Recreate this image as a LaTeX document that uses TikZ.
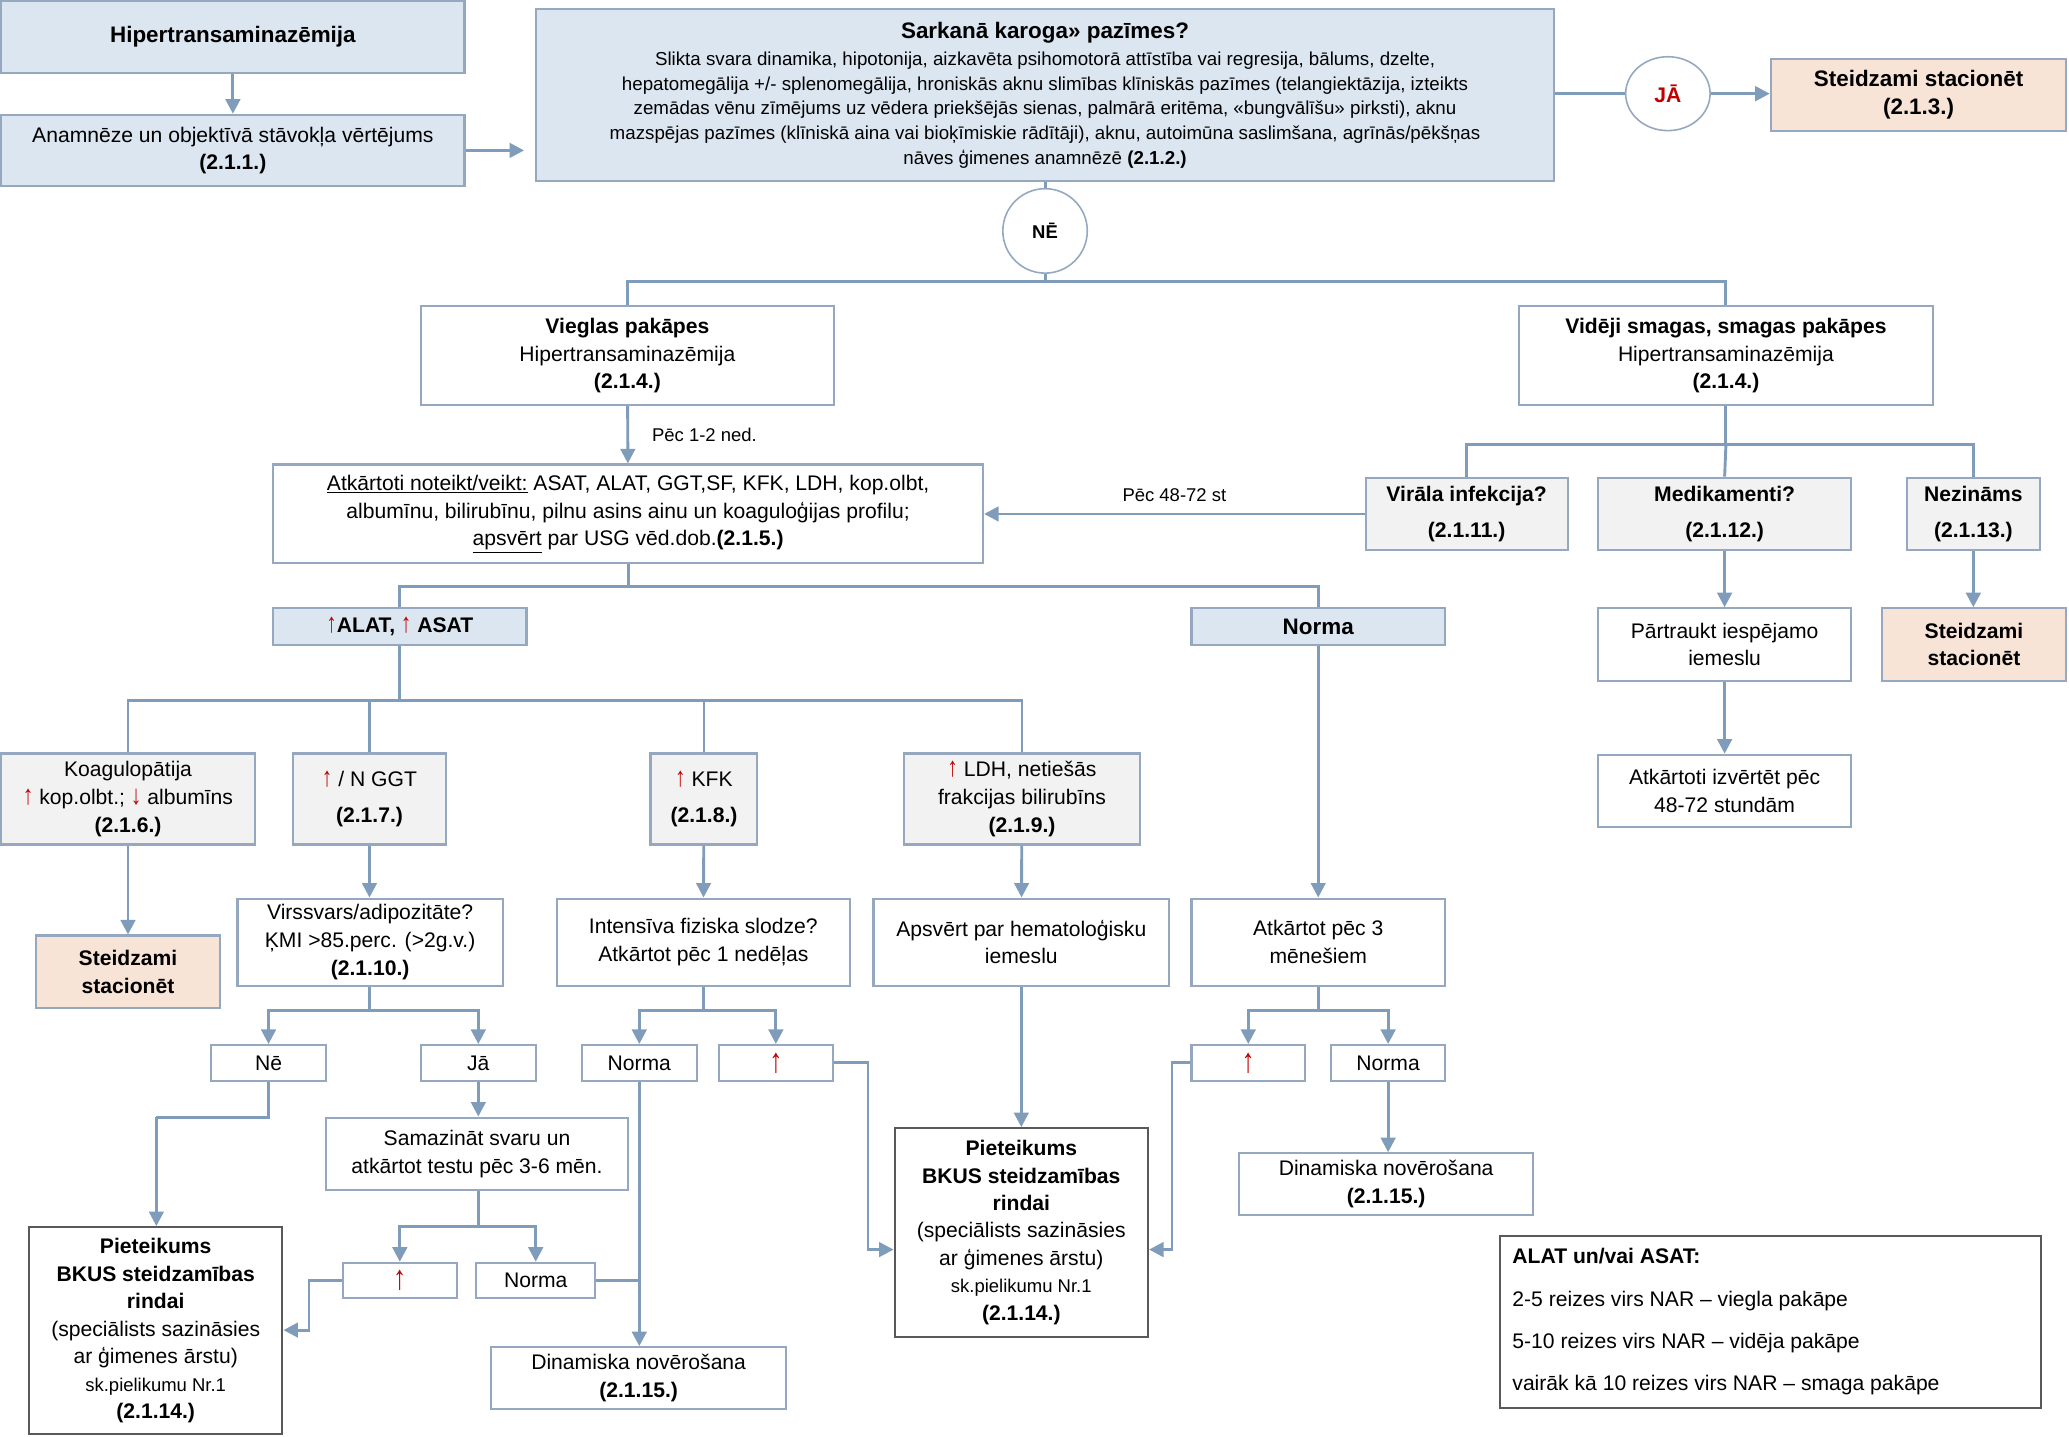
\documentclass[tikz,border=0pt]{standalone}
\usepackage{fontspec}
\setmainfont{Liberation Sans}
\usetikzlibrary{arrows.meta,shapes.geometric}
\definecolor{bfill}{HTML}{DCE6F1}
\definecolor{bdr}{HTML}{95A8BF}
\definecolor{gfill}{HTML}{F2F2F2}
\definecolor{ofill}{HTML}{F8E4D6}
\definecolor{ln}{HTML}{7F9CBB}
\definecolor{rd}{HTML}{C00000}
\newcommand\bx[7]{\node[box,#6,minimum width={(#4-#2)*1pt},minimum height={(#5-#3)*1pt}] (#1) at ({(#2+#4)/2},{-(#3+#5)/2}) {#7};}
\newcommand\up{\textcolor{rd}{\scalebox{1}[1.3]{↑}}}
\begin{document}
\begin{tikzpicture}[x=1pt,y=1pt,
 box/.style={draw=bdr,line width=1.6pt,fill=white,align=center,inner sep=0pt,font=\fontsize{16}{21}\selectfont},
 bl/.style={fill=bfill},gr/.style={fill=gfill},og/.style={fill=ofill},
 cn/.style={draw=ln,line width=2.2pt},
 ar/.style={cn,-{Triangle[length=11pt,width=11pt]}},
 lab/.style={font=\fontsize{14}{16}\selectfont}]
\useasboundingbox (0,0) rectangle (1568,-1089);
\bx{hyper}{1}{1}{352}{55}{bl,font=\fontsize{17}{21}\selectfont\bfseries}{Hipertransaminazēmija}
\bx{anam}{1}{87}{352}{141}{bl}{Anamnēze un objektīvā stāvokļa vērtējums\\\textbf{(2.1.1.)}}
\bx{red}{406}{7}{1178}{137}{bl,font=\fontsize{14.2}{18.7}\selectfont}{{\fontsize{17}{21}\selectfont\bfseries Sarkanā karoga» pazīmes?}\\[2pt]
Slikta svara dinamika, hipotonija, aizkavēta psihomotorā attīstība vai regresija, bālums, dzelte,\\
hepatomegālija +/- splenomegālija, hroniskās aknu slimības klīniskās pazīmes (telangiektāzija, izteikts\\
zemādas vēnu zīmējums uz vēdera priekšējās sienas, palmārā eritēma, «bungvālīšu» pirksti), aknu\\
mazspējas pazīmes (klīniskā aina vai bioķīmiskie rādītāji), aknu, autoimūna saslimšana, agrīnās/pēkšņas\\
nāves ģimenes anamnēzē \textbf{(2.1.2.)}}
\node[box,ellipse,line width=1.2pt,minimum width=64pt,minimum height=56pt] (ja) at (1264,-71) {\textcolor{rd}{\textbf{JĀ}}};
\bx{stac1}{1342}{45}{1566}{99}{og,font=\fontsize{17}{21}\selectfont\bfseries}{Steidzami stacionēt\\(2.1.3.)}
\node[box,circle,line width=1.2pt,minimum size=64pt,font=\fontsize{14}{16}\selectfont\bfseries] (ne) at (792,-175) {NĒ};
\bx{viegl}{319}{232}{632}{307}{}{\textbf{Vieglas pakāpes}\\Hipertransaminazēmija\\\textbf{(2.1.4.)}}
\bx{vid}{1151}{232}{1465}{307}{}{\textbf{Vidēji smagas, smagas pakāpes}\\Hipertransaminazēmija\\\textbf{(2.1.4.)}}
\bx{atk}{207}{352}{745}{427}{}{\underline{Atkārtoti noteikt/veikt:} ASAT, ALAT, GGT,SF, KFK, LDH, kop.olbt,\\albumīnu, bilirubīnu, pilnu asins ainu un koaguloģijas profilu;\\\underline{apsvērt} par USG vēd.dob.\textbf{(2.1.5.)}}
\bx{vir}{1035}{362}{1188}{417}{gr,font=\fontsize{16}{27}\selectfont\bfseries}{Virāla infekcija?\\(2.1.11.)}
\bx{med}{1211}{362}{1403}{417}{gr,font=\fontsize{16}{27}\selectfont\bfseries}{Medikamenti?\\(2.1.12.)}
\bx{nez}{1445}{362}{1546}{417}{gr,font=\fontsize{16}{27}\selectfont\bfseries}{Nezināms\\(2.1.13.)}
\bx{alat}{207}{461}{399}{489}{bl,font=\fontsize{16}{21}\selectfont\bfseries}{\up ALAT, \up\ ASAT}
\bx{norma1}{903}{461}{1095}{489}{bl,font=\fontsize{17}{21}\selectfont\bfseries}{Norma}
\bx{part}{1211}{461}{1403}{516}{}{Pārtraukt iespējamo\\iemeslu}
\bx{stac2}{1426}{461}{1566}{516}{og,font=\fontsize{16}{21}\selectfont\bfseries}{Steidzami\\stacionēt}
\bx{atk48}{1211}{572}{1403}{627}{}{Atkārtoti izvērtēt pēc\\48-72 stundām}
\bx{koag}{1}{571}{193}{640}{gr}{Koagulopātija\\\up\ kop.olbt.; \textcolor{rd}{\scalebox{1}[1.3]{↓}} albumīns\\\textbf{(2.1.6.)}}
\bx{ggt}{222}{571}{338}{640}{gr,font=\fontsize{16}{27}\selectfont}{\up\ / N GGT\\\textbf{(2.1.7.)}}
\bx{kfk}{493}{571}{574}{640}{gr,font=\fontsize{16}{27}\selectfont}{\up\ KFK\\\textbf{(2.1.8.)}}
\bx{ldh}{685}{571}{864}{640}{gr}{\up\ LDH, netiešās\\frakcijas bilirubīns\\\textbf{(2.1.9.)}}
\bx{stac3}{27}{709}{167}{764}{og,font=\fontsize{16}{21}\selectfont\bfseries}{Steidzami\\stacionēt}
\bx{virs}{180}{681}{381}{747}{}{Virssvars/adipozitāte?\\ĶMI >85.perc. (>2g.v.)\\\textbf{(2.1.10.)}}
\bx{inten}{422}{681}{644}{747}{}{Intensīva fiziska slodze?\\Atkārtot pēc 1 nedēļas}
\bx{apsv}{662}{681}{886}{747}{}{Apsvērt par hematoloģisku\\iemeslu}
\bx{atk3}{903}{681}{1095}{747}{}{Atkārtot pēc 3\\mēnešiem}
\bx{ne2}{160}{792}{247}{819}{}{Nē}
\bx{ja2}{319}{792}{406}{819}{}{Jā}
\bx{norma2}{441}{792}{528}{819}{}{Norma}
\bx{up1}{545}{792}{631}{819}{font=\fontsize{20}{21}\selectfont}{\up}
\bx{up2}{903}{792}{989}{819}{font=\fontsize{20}{21}\selectfont}{\up}
\bx{norma3}{1009}{792}{1095}{819}{}{Norma}
\bx{samaz}{247}{847}{476}{902}{}{Samazināt svaru un\\atkārtot testu pēc 3-6 mēn.}
\bx{piet1}{678}{855}{870}{1013}{draw=gray!70!black,font=\fontsize{16}{20.8}\selectfont}{\textbf{Pieteikums}\\\textbf{BKUS steidzamības}\\\textbf{rindai}\\(speciālists sazināsies\\ar ģimenes ārstu)\\{\fontsize{14}{20.8}\selectfont sk.pielikumu Nr.1}\\\textbf{(2.1.14.)}}
\bx{dina1}{939}{874}{1162}{921}{}{Dinamiska novērošana\\\textbf{(2.1.15.)}}
\bx{up3}{260}{957}{346}{984}{font=\fontsize{20}{21}\selectfont}{\up}
\bx{norma4}{361}{957}{451}{984}{}{Norma}
\bx{piet2}{22}{930}{214}{1087}{draw=gray!70!black,font=\fontsize{16}{20.8}\selectfont}{\textbf{Pieteikums}\\\textbf{BKUS steidzamības}\\\textbf{rindai}\\(speciālists sazināsies\\ar ģimenes ārstu)\\{\fontsize{14}{20.8}\selectfont sk.pielikumu Nr.1}\\\textbf{(2.1.14.)}}
\bx{dina2}{372}{1021}{596}{1068}{}{Dinamiska novērošana\\\textbf{(2.1.15.)}}
\bx{leg}{1137}{937}{1547}{1067}{draw=gray!70!black}{}
\node[anchor=north west,align=left,inner sep=0pt,font=\fontsize{16}{32}\selectfont] (legt) at (1146,-946) {\textbf{ALAT un/vai ASAT:}\\2-5 reizes virs NAR – viegla pakāpe\\5-10 reizes virs NAR – vidēja pakāpe\\vairāk kā 10 reizes virs NAR – smaga pakāpe};
% connectors
\draw[ar] (hyper) -- (anam);
\draw[ar] (anam.east) -- ([xshift=-8pt]anam.east -| red.west);
\draw[cn] (red.east |- ja) -- (ja);
\draw[ar] (ja) -- (stac1.west |- ja);
\draw[cn] (red.south -| ne) -- (ne);
\draw[cn] (ne.south) -- ++(0,-6) coordinate (j1);
\draw[cn] (viegl.north) |- (j1) -| (vid.north);
\draw[ar] (viegl) -- (atk) node[lab,midway,right=14pt] (l1) {Pēc 1-2 ned.};
\draw[cn] (vid.south) -- ++(0,-29) coordinate (j2);
\draw[cn] (vir.north) |- (j2) -| (nez.north);
\draw[cn] (j2) -- (med.north);
\draw[ar] (vir.west) -- (vir.west -| atk.east) node[lab,midway,above=5pt] (l2) {Pēc 48-72 st};
\draw[ar] (med) -- (part);
\draw[ar] (part) -- (atk48);
\draw[ar] (nez.south) -- (nez.south |- stac2.north);
\draw[cn] (atk.south) -- ++(0,-17) coordinate (j3);
\draw[cn] (alat.north) |- (j3) -| (norma1.north);
\draw[cn] (alat.south) -- ++(0,-41) coordinate (j4);
\draw[cn] (koag.north) |- (j4) -| (ldh.north);
\draw[cn] (ggt.north) -- (ggt.north |- j4);
\draw[cn] (kfk.north) -- (kfk.north |- j4);
\draw[ar] (koag.south) -- (koag.south |- stac3.north);
\draw[ar] (ggt.south) -- (ggt.south |- virs.north);
\draw[ar] (kfk) -- (inten);
\draw[ar] (ldh) -- (apsv);
\draw[ar] (norma1) -- (atk3);
\draw[cn] (virs.south -| ggt) -- ++(0,-18) coordinate (j5);
\draw[ar] (j5) -| (ne2.north);
\draw[ar] (j5) -| (ja2.north);
\draw[cn] (inten.south) -- ++(0,-18) coordinate (j6);
\draw[ar] (j6) -| (norma2.north);
\draw[ar] (j6) -| (up1.north);
\draw[ar] (apsv) -- (piet1);
\draw[cn] (atk3.south) -- ++(0,-18) coordinate (j7);
\draw[ar] (j7) -| (up2.north);
\draw[ar] (j7) -| (norma3.north);
\draw[ar] (up1.east) -- ++(26,0) |- ([yshift=-13pt]piet1.west);
\draw[ar] (up2.west) -- ++(-14,0) |- ([yshift=-13pt]piet1.east);
\draw[ar] (norma3.south) -- (norma3.south |- dina1.north);
\draw[cn] (ne2.south) -- ++(0,-27) -| ++(-85,0) coordinate (j8);
\draw[ar] (j8) -- (j8 |- piet2.north);
\draw[ar] (ja2.south) -- (ja2.south |- samaz.north);
\draw[cn] (samaz.south -| ja2) -- ++(0,-27) coordinate (j9);
\draw[ar] (j9) -| (up3.north);
\draw[ar] (j9) -| (norma4.north);
\draw[ar] (norma2.south) -- (norma2.south |- dina2.north);
\draw[cn] (norma4.east) -- (norma4.east -| norma2);
\draw[ar] (up3.west) -- ++(-25,0) |- (piet2.east |- 0,-1008);
\end{tikzpicture}
\end{document}
